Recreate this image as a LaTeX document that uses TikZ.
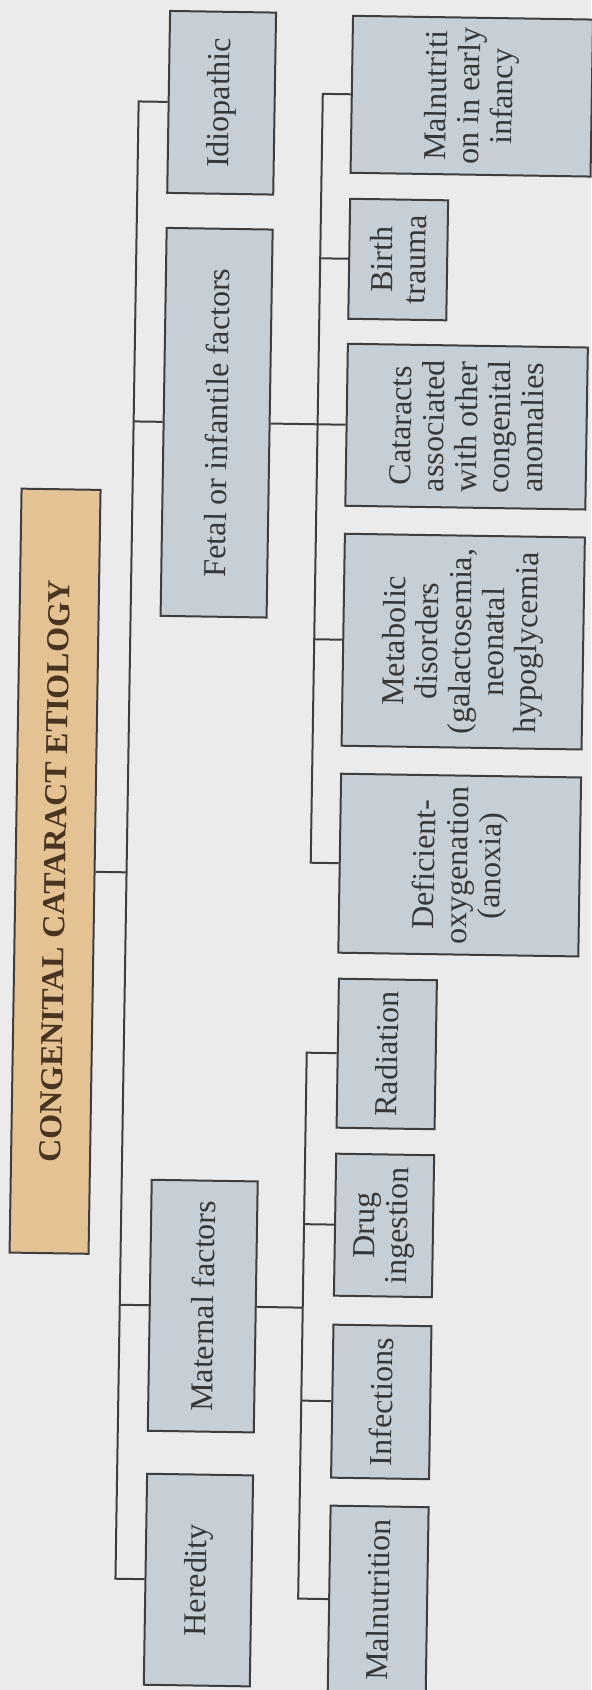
\documentclass[tikz,border=0pt]{standalone}
\usepackage{fontspec}
\setmainfont{Liberation Serif}
\definecolor{pagebg}{RGB}{234,235,234}
\definecolor{boxfill}{RGB}{198,207,213}
\definecolor{titlefill}{RGB}{229,194,148}
\definecolor{boxline}{RGB}{62,62,62}
\definecolor{boxtext}{RGB}{55,55,55}
\definecolor{titletext}{RGB}{72,52,32}
\tikzset{
  box/.style={draw=boxline,fill=boxfill,line width=1pt,rotate=90,inner sep=0pt,align=center,
    text=boxtext,font=\fontsize{16}{16.5}\selectfont},
  titlebox/.style={box,fill=titlefill,text=titletext,font=\fontsize{16}{18}\selectfont\bfseries},
  link/.style={draw=boxline,line width=1pt}
}

\begin{document}
\begin{tikzpicture}[x=0.5pt,y=-0.5pt]
\fill[pagebg] (0,0) rectangle (591,1690);
\useasboundingbox (0,0) rectangle (591,1690);
\begin{scope}[rotate around={-0.9:(295.5,845)},transform shape]
% title and first level
\node[titlebox,minimum width=382pt,minimum height=39.5pt] (title) at (55.5,875) {CONGENITAL CATARACT ETIOLOGY};
\node[box,minimum width=91pt,minimum height=53pt] (idio) at (210,104) {Idiopathic};
\node[box,minimum width=194pt,minimum height=53pt] (fetal) at (210,424) {Fetal or infantile factors};
\node[box,minimum width=125.5pt,minimum height=53pt] (mat) at (210,1307.5) {Maternal factors};
\node[box,minimum width=105.5pt,minimum height=53pt] (her) at (210,1581.5) {Heredity};
% fetal or infantile
\node[box,minimum width=78.5pt,minimum height=120pt] (mif) at (460,93.5) {Malnutriti\\on in early\\infancy};
\node[box,minimum width=60pt,minimum height=49pt] (bt) at (389,258) {Birth\\trauma};
\node[box,minimum width=81pt,minimum height=120pt] (cat) at (460,424) {Cataracts\\associated\\with other\\congenital\\anomalies};
\node[box,minimum width=106pt,minimum height=120pt] (met) at (460,639) {Metabolic\\disorders\\(galactosemia,\\neonatal\\hypoglycemia};
\node[box,minimum width=89.5pt,minimum height=120pt] (def) at (460,862.5) {Deficient-\\oxygenation\\(anoxia)};
% maternal
\node[box,minimum width=74.5pt,minimum height=49pt] (rad) at (390,1052.5) {Radiation};
\node[box,minimum width=71pt,minimum height=49pt] (drug) at (390,1224) {Drug\\ingestion};
\node[box,minimum width=76.5pt,minimum height=49pt] (inf) at (390,1400.5) {Infections};
\node[box,minimum width=93.5pt,minimum height=49pt] (mal) at (390,1598.5) {Malnutrition};
% junctions
\coordinate (j-idio) at (127,104);
\coordinate (j-fetal) at (127,424);
\coordinate (j-title) at (127,875);
\coordinate (j-mat) at (127,1307.5);
\coordinate (j-her) at (127,1581.5);
\coordinate (f-mif) at (311,93.5);
\coordinate (f-bt) at (311,258);
\coordinate (f-met) at (311,639);
\coordinate (f-def) at (311,862.5);
\coordinate (m-mat) at (310,1307.5);
\coordinate (m-rad) at (310,1052.5);
\coordinate (m-drug) at (310,1224);
\coordinate (m-inf) at (310,1400.5);
\coordinate (m-mal) at (310,1598.5);
% links
\draw[link] (idio.north) -- (j-idio) -- (j-her) -- (her.north);
\draw[link] (fetal.north) -- (j-fetal);
\draw[link] (title.south) -- (j-title);
\draw[link] (mat.north) -- (j-mat);
\draw[link] (mif.north) -- (f-mif) -- (f-def) -- (def.north);
\draw[link] (bt.north) -- (f-bt);
\draw[link] (met.north) -- (f-met);
\draw[link] (fetal.south) -- (cat.north);
\draw[link] (mat.south) -- (m-mat);
\draw[link] (rad.north) -- (m-rad) -- (m-mal) -- (mal.north);
\draw[link] (drug.north) -- (m-drug);
\draw[link] (inf.north) -- (m-inf);
\end{scope}
\end{tikzpicture}
\end{document}
